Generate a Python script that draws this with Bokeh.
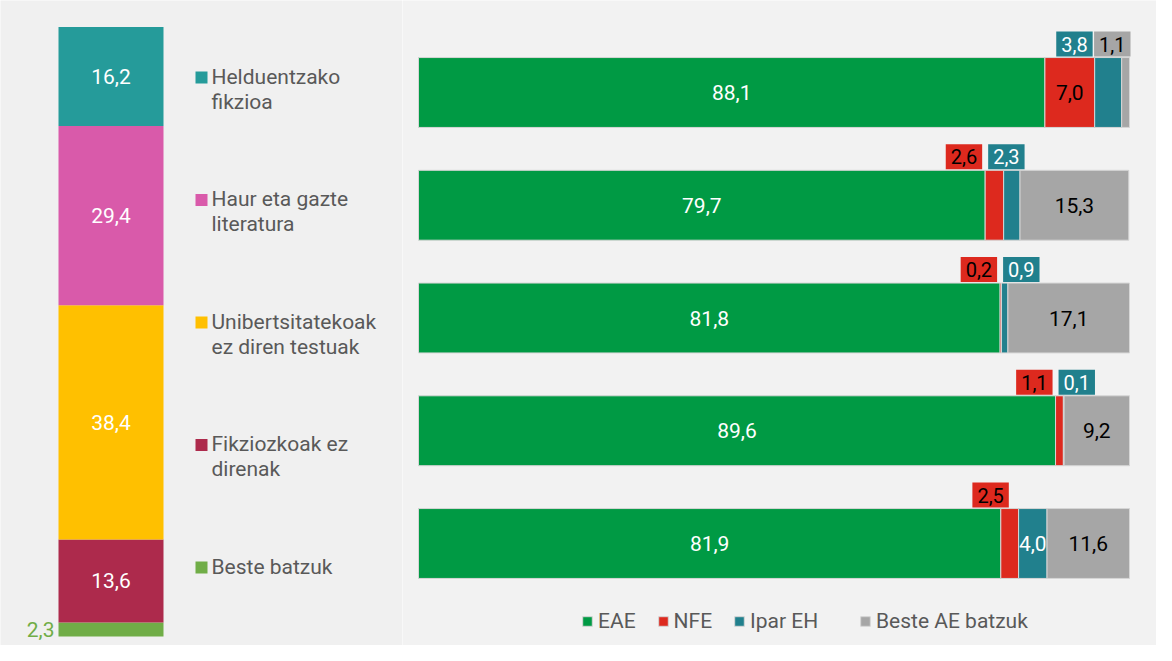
from bokeh.plotting import figure
from bokeh.layouts import row
from bokeh.models import Range1d, ColumnDataSource, Legend, LegendItem
from bokeh.core.properties import value
from bokeh.embed import file_html
from bokeh.resources import INLINE

# ---------------- data ----------------
genres = ["Helduentzako\nfikzioa", "Haur eta gazte\nliteratura",
          "Unibertsitatekoak\nez diren testuak", "Fikziozkoak ez\ndirenak",
          "Beste batzuk"]
genre_share = [16.2, 29.4, 38.4, 13.6, 2.3]
genre_colors = ["#259b9a", "#d95aaa", "#ffc000", "#ad2a4c", "#70ad47"]

regions = ["EAE", "NFE", "Ipar EH", "Beste AE batzuk"]
eae = [88.1, 79.7, 81.8, 89.6, 81.9]
nfe = [7.0, 2.6, 0.2, 1.1, 2.5]
ipar = [3.8, 2.3, 0.9, 0.1, 4.0]
beste = [1.1, 15.3, 17.1, 9.2, 11.6]
region_colors = ["#009a44", "#dd291e", "#21808d", "#a6a6a6"]
region_text = ["white", "black", "white", "black"]

FONT = value("Roboto")
FS = "21px"
def fmt(v):
    return f"{v:.1f}".replace(".", ",")

H = 645
WL, WR = 402, 754
BG_L, BG_R = "#f0f0f0", "#f2f2f2"

# ---------------- left: stacked column ----------------
COL_TOP, COL_BOT = 26, 636
PXU = (COL_BOT - COL_TOP) / 100.0
def ly(px):
    return 100 - (px - COL_TOP) / PXU

p1 = figure(width=WL, height=H, x_range=Range1d(0, WL), y_range=Range1d(ly(H), ly(0)),
            output_backend="svg", toolbar_location=None,
            x_axis_location=None, y_axis_location=None, min_border=0,
            background_fill_color=BG_L, border_fill_color=BG_L, outline_line_color=None)
p1.grid.visible = False

COL_X, COL_W = 110.5, 105
b, t, c, mids, vals = [], [], [], [], []
acc = 0.0
for k in reversed(range(len(genres))):
    b.append(acc)
    acc += genre_share[k]
    t.append(acc)
    c.append(genre_colors[k])
    mids.append((b[-1] + t[-1]) / 2)
    vals.append(genre_share[k])
src1 = ColumnDataSource(dict(b=b, t=t, c=c))
p1.vbar(x=COL_X, width=COL_W, bottom="b", top="t", fill_color="c", line_color=None, source=src1)

in_y = [m for m, v in zip(mids, vals) if v >= 5]
in_t = [fmt(v) for v in vals if v >= 5]
p1.text(x=[COL_X] * len(in_y), y=in_y, text=in_t, text_align="center", text_baseline="middle",
        text_font=FONT, text_font_size=FS, text_color="white")
out = [(m, v, cc) for m, v, cc in zip(mids, vals, c) if v < 5]
p1.text(x=[COL_X - COL_W / 2 - 4] * len(out), y=[o[0] for o in out], text=[fmt(o[1]) for o in out],
        text_align="right", text_baseline="middle", text_font=FONT, text_font_size=FS,
        text_color=[o[2] for o in out])

# legend of genres
LEG_Y0, LEG_STEP, LINE_H = 76, 122.5, 25
for k, g in enumerate(genres):
    y0 = LEG_Y0 + LEG_STEP * k
    p1.scatter(x=[201], y=[ly(y0 + 1)], marker="square", size=12, fill_color=genre_colors[k], line_color=None)
    lines = g.split("\n")
    p1.text(x=[211] * len(lines), y=[ly(y0 + LINE_H * j) for j in range(len(lines))], text=lines,
            text_align="left", text_baseline="middle", text_font=FONT, text_font_size=FS,
            text_color="#595959")

# ---------------- right: horizontal stacked bars ----------------
XU = 7.11
X0 = 16
BAR_Y0, BAR_STEP = 92, 112.75
p2 = figure(width=WR, height=H, x_range=Range1d(-X0 / XU, (WR - X0) / XU),
            y_range=Range1d((H - BAR_Y0) / BAR_STEP, -BAR_Y0 / BAR_STEP),
            output_backend="svg", toolbar_location=None,
            x_axis_location=None, y_axis_location=None, min_border=0,
            background_fill_color=BG_R, border_fill_color=BG_R, outline_line_color=None)
p2.grid.visible = False

series = [eae, nfe, ipar, beste]
n = len(eae)
ys = list(range(n))
lefts = [[0.0] * n for _ in series]
for i in range(n):
    acc = 0.0
    for s in range(len(series)):
        lefts[s][i] = acc
        acc += series[s][i]

rends = []
for s, vals_s in enumerate(series):
    src = ColumnDataSource(dict(y=ys, left=lefts[s], right=[l + v for l, v in zip(lefts[s], vals_s)]))
    r = p2.hbar(y="y", left="left", right="right", height=0.62, fill_color=region_colors[s],
                line_color="#d6d6d6", line_width=1, source=src)
    rends.append(r)

# inside labels
ix, iy, it, ic = [], [], [], []
# box labels
bx, by, bt, bc, bbg, ba = [], [], [], [], [], []
BOX_DY = 48.5 / BAR_STEP
for i in range(n):
    small_red = series[1][i] < 4.0
    small_teal = series[2][i] < 4.0
    for s in range(len(series)):
        v = series[s][i]
        st = lefts[s][i]
        if v >= 4.0:
            ix.append(st + v / 2); iy.append(i); it.append(fmt(v)); ic.append(region_text[s])
        else:
            if s == 3:
                x, a = st + v + 1 / XU, "right"
            elif s == 1 and not small_teal:
                x, a = st + 8 / XU, "right"
            elif s == 1:
                x, a = st - 3 / XU, "right"
            elif s == 2 and small_red:
                x, a = lefts[1][i] + 3 / XU, "left"
            else:
                x, a = st - 2 / XU, "right"
            bx.append(x); by.append(i - BOX_DY); bt.append(fmt(v)); bc.append(region_text[s])
            bbg.append(region_colors[s]); ba.append(a)

p2.text(x=ix, y=iy, text=it, text_color=ic, text_align="center", text_baseline="middle",
        text_font=FONT, text_font_size=FS)
for a in ("left", "right"):
    idx = [j for j, aa in enumerate(ba) if aa == a]
    srcb = ColumnDataSource(dict(x=[bx[j] for j in idx], y=[by[j] for j in idx],
                                 t=[bt[j] for j in idx], c=[bc[j] for j in idx],
                                 bg=[bbg[j] for j in idx]))
    p2.text(x="x", y="y", text="t", text_color="c", background_fill_color="bg",
            padding=dict(left=5, right=5, top=5, bottom=5),
            text_align=a, text_baseline="middle", text_font=FONT, text_font_size="20px", source=srcb)

def make_legend(items, loc):
    return Legend(items=items, orientation="horizontal", location=loc, glyph_width=12, glyph_height=12,
                  label_standoff=5, spacing=21, padding=0, margin=0, border_line_color=None,
                  background_fill_alpha=0, label_text_font="Roboto", label_text_font_size=FS,
                  label_text_color="#595959", label_height=20)

items = [LegendItem(label=regions[s], renderers=[rends[s]]) for s in range(len(regions))]
p2.add_layout(make_legend(items[:3], (179, 12)))
p2.add_layout(make_legend(items[3:], (457, 12)))

layout = row(p1, p2, spacing=0)
open("out.html", "w").write(file_html(layout, INLINE))
